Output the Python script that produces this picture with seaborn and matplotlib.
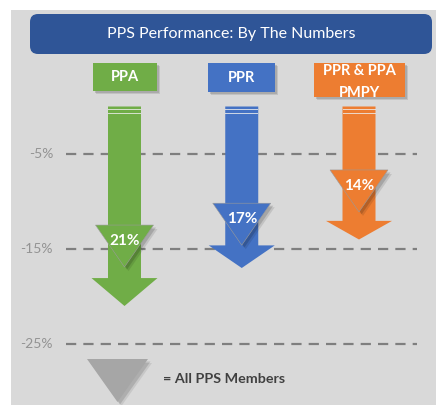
import matplotlib
matplotlib.use("Agg")
import matplotlib.pyplot as plt
from matplotlib.patches import Polygon, Rectangle, FancyBboxPatch
import seaborn as sns

# ---- data ----
categories = ["PPA", "PPR", "PPR & PPA\nPMPY"]
values = [-21, -17, -14]                 # arrow tip (% change)
member_tips = [-16.9, -14.6, -11.1]      # "All PPS Members" marker tip
value_labels = ["21%", "17%", "14%"]
colors = ["#70AD47", "#4472C4", "#ED7D31"]
grid_ticks = [-5, -15, -25]
grid_labels = ["-5%", "-15%", "-25%"]
title = "PPS Performance: By The Numbers"
legend_label = "= All PPS Members"

sns.set_theme(style="white")
plt.rcParams["font.family"] = ["Lato", "DejaVu Sans"]

W, H = 436, 405
fig = plt.figure(figsize=(W / 100, H / 100), dpi=100, facecolor="white")
ax = fig.add_axes([0, 0, 1, 1])
ax.axis("off")

# pixel geometry of the scale
X0, XS = 124.5, 117.25      # px of category 0, px per category
Y5, YS = 154.0, 9.5         # px of -5 %, px per 1 %
ax.set_xlim(-X0 / XS, (W - X0) / XS)
ax.set_ylim(-5 - (H - Y5) / YS, -5 + Y5 / YS)

def dx(px):   # pixel width -> data width
    return px / XS

def dy(px):   # pixel height -> data height
    return px / YS

def xpix(px):  # absolute x pixel -> data x
    return (px - X0) / XS

inch = fig.dpi_scale_trans
def P(x, y):
    return (x / 100, (H - y) / 100)

# background panel
ax.add_patch(Rectangle(P(11, H), (W - 11) / 100, (H - 10) / 100,
                       transform=inch, facecolor="#D9D9D9",
                       edgecolor="none", zorder=0))

# title box
ax.add_patch(FancyBboxPatch(P(30, 54), 402 / 100, 40 / 100,
                            boxstyle="round,pad=0,rounding_size=0.08",
                            transform=inch, facecolor="#2F5597",
                            edgecolor="none", zorder=1))
ax.text(231 / W, 1 - 34 / H, title, ha="center", va="center",
        color="white", fontsize=11.5, transform=ax.transAxes, zorder=2)

# dashed grid lines + labels
for t, lab in zip(grid_ticks, grid_labels):
    ax.plot([xpix(66), xpix(417)], [t, t], color="#7F7F7F", lw=1.6,
            dashes=(4.6, 3.2), zorder=2, solid_capstyle="butt",
            dash_capstyle="butt")
    ax.text(xpix(53), t, lab, ha="right", va="center", color="#939393",
            fontsize=10, zorder=2)

# category header boxes
box_w = [64, 67, 91]
box_h = [28, 29, 34]
for i, (cat, c) in enumerate(zip(categories, colors)):
    xc = i
    top = -5 + dy(Y5 - 63)
    bw, bh = dx(box_w[i]), dy(box_h[i])
    for k, a in ((3, 0.25), (2, 0.35)):
        ax.add_patch(Rectangle((xc - bw / 2 + dx(k), top - bh - dy(k)), bw, bh,
                               facecolor="#808080", alpha=a, edgecolor="none",
                               zorder=3))
    ax.add_patch(Rectangle((xc - bw / 2, top - bh), bw, bh, facecolor=c,
                           edgecolor="none", zorder=4))
    lines = cat.split("\n")
    if len(lines) == 1:
        ax.text(xc, top - bh / 2, cat, ha="center", va="center",
                color="white", fontsize=10.5, fontweight="bold", zorder=5)
    else:
        ax.text(xc, top - dy(8), lines[0], ha="center", va="center",
                color="white", fontsize=10.5, fontweight="bold", zorder=5)
        ax.text(xc, top - dy(30), lines[1], ha="center", va="center",
                color="white", fontsize=10.5, fontweight="bold", zorder=5)

# arrows
shaft_hw = dx(16.5)
head_hw = dx(33)
for i, (v, c) in enumerate(zip(values, colors)):
    start = 0.0
    head_len = 0.14 * abs(v)
    hb = v + head_len
    pts = [(i - shaft_hw, start), (i + shaft_hw, start), (i + shaft_hw, hb),
           (i + head_hw, hb), (i, v), (i - head_hw, hb), (i - shaft_hw, hb)]
    ax.add_patch(Polygon(pts, closed=True, facecolor=c, edgecolor="none",
                         zorder=4))
    # light stripes at the top of the shaft
    for g in (2.5, 6.5):
        ax.add_patch(Rectangle((i - shaft_hw, -dy(g) - dy(1.2)), 2 * shaft_hw,
                               dy(1.2), facecolor="#EDEDED", alpha=0.8,
                               edgecolor="none", zorder=5))

# "All PPS Members" markers
tri_h = dy(42)
tri_hw = dx(29)
for i, (m, c, lab) in enumerate(zip(member_tips, colors, value_labels)):
    top = m + tri_h
    for k, a in ((4, 0.10), (2.5, 0.15)):
        shadow = [(i - tri_hw + dx(k), top - dy(k)),
                  (i + tri_hw + dx(k), top - dy(k)),
                  (i + dx(k), m - dy(k))]
        ax.add_patch(Polygon(shadow, closed=True, facecolor="black", alpha=a,
                             edgecolor="none", zorder=6))
    tri = [(i - tri_hw, top), (i + tri_hw, top), (i, m)]
    ax.add_patch(Polygon(tri, closed=True, facecolor=c, edgecolor="#9a9a9a",
                         lw=0.4, zorder=7))
    ax.text(i, top - dy(16), lab, ha="center", va="center", color="white",
            fontsize=11, fontweight="bold", zorder=8)

# legend marker
lx, ltop, ltip, lhw = 117.5, 359, 402, 30.5
for k, a in ((4, 0.08), (2.5, 0.12)):
    ax.add_patch(Polygon([(xpix(lx - lhw + k), -5 - dy(ltop + k - Y5)),
                          (xpix(lx + lhw + k), -5 - dy(ltop + k - Y5)),
                          (xpix(lx + k), -5 - dy(ltip + k - Y5))],
                         closed=True, facecolor="black", alpha=a,
                         edgecolor="none", zorder=6))
ax.add_patch(Polygon([(xpix(lx - lhw), -5 - dy(ltop - Y5)),
                      (xpix(lx + lhw), -5 - dy(ltop - Y5)),
                      (xpix(lx), -5 - dy(ltip - Y5))],
                     closed=True, facecolor="#A6A6A6", edgecolor="none",
                     zorder=7))
ax.text(xpix(163), -5 - dy(379 - Y5), legend_label, ha="left", va="center",
        color="#404040", fontsize=10.3, fontweight="bold", zorder=8)

fig.savefig("out.png", dpi=100, facecolor="white")
